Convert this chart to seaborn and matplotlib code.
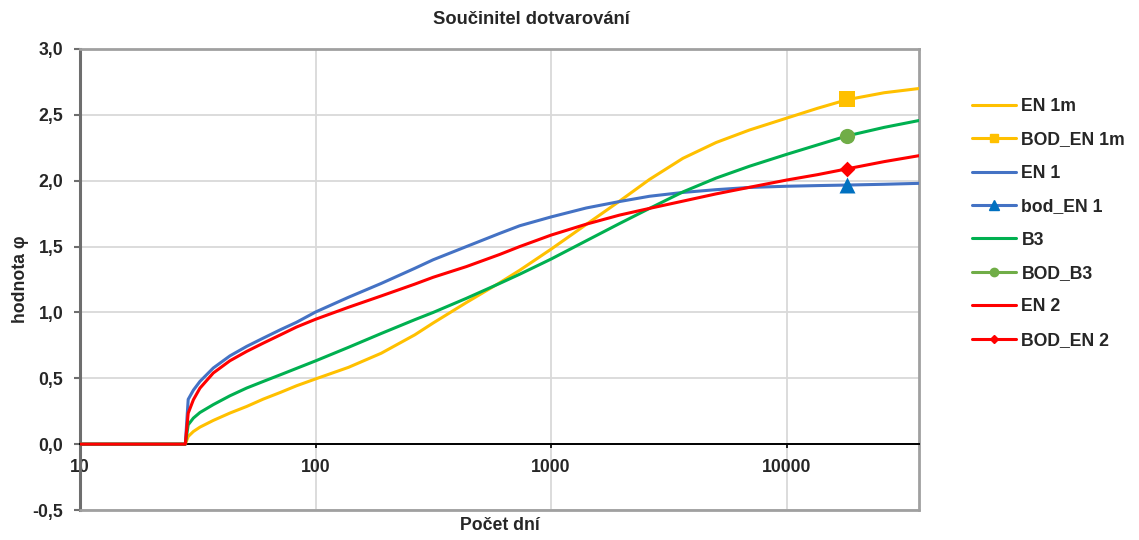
import matplotlib
matplotlib.use("Agg")
import matplotlib.pyplot as plt
import seaborn as sns
from matplotlib.lines import Line2D
from matplotlib.ticker import FuncFormatter, FixedLocator, NullLocator

# Creep coefficient curves (age in days, log scale)
days = [10, 28, 28.8, 30.3, 32.3, 36.8, 43.3, 51, 60, 71, 83, 100, 138, 190, 264,
        316, 437, 605, 736, 1000, 1411, 1954, 2620, 3630, 5020, 6960, 10000,
        13540, 18050, 25970, 36500]

en1m = [0, 0, 0.058, 0.096, 0.129, 0.18, 0.236, 0.286, 0.342, 0.393, 0.443, 0.495,
        0.583, 0.69, 0.83, 0.92, 1.075, 1.225, 1.32, 1.48, 1.668, 1.845, 2.01, 2.17,
        2.29, 2.385, 2.475, 2.55, 2.615, 2.668, 2.70]
en1 = [0, 0, 0.34, 0.41, 0.476, 0.578, 0.67, 0.742, 0.805, 0.869, 0.925, 1.003,
       1.115, 1.22, 1.335, 1.40, 1.50, 1.60, 1.658, 1.725, 1.793, 1.842, 1.882, 1.911,
       1.932, 1.949, 1.958, 1.963, 1.967, 1.973, 1.98]
b3 = [0, 0, 0.147, 0.198, 0.24, 0.30, 0.367, 0.426, 0.476, 0.527, 0.575, 0.632,
      0.735, 0.84, 0.945, 1.0, 1.107, 1.22, 1.29, 1.405, 1.544, 1.675, 1.79, 1.915,
      2.02, 2.11, 2.20, 2.272, 2.34, 2.405, 2.457]
en2 = [0, 0, 0.235, 0.337, 0.425, 0.54, 0.633, 0.704, 0.767, 0.83, 0.889, 0.948,
       1.039, 1.125, 1.215, 1.267, 1.348, 1.44, 1.50, 1.587, 1.67, 1.739, 1.79, 1.845,
       1.90, 1.95, 2.005, 2.046, 2.09, 2.145, 2.19]

# Single evaluation points at ~50 years
point_day = [18050]
bod_en1m = [2.62]
bod_en1 = [1.97]
bod_b3 = [2.34]
bod_en2 = [2.09]

x_ticks = [10, 100, 1000, 10000]
y_ticks = [-0.5, 0.0, 0.5, 1.0, 1.5, 2.0, 2.5, 3.0]

YELLOW = "#FFC000"
BLUE_LINE = "#4472C4"
BLUE_MARK = "#0070C0"
GREEN_LINE = "#00B050"
GREEN_MARK = "#70AD47"
RED = "#FF0000"

sns.set_style("white")
plt.rcParams["font.family"] = ["Liberation Sans", "DejaVu Sans"]
plt.rcParams["font.weight"] = "bold"
FS = 12.7

fig = plt.figure(figsize=(11.39, 5.40), dpi=100)
ax = fig.add_axes([80 / 1139, 1 - 510 / 540, 839 / 1139, 461 / 540])

LW = 2.2
sns.lineplot(x=days, y=en1m, ax=ax, color=YELLOW, lw=LW, estimator=None, sort=False, zorder=3)
sns.lineplot(x=days, y=en1, ax=ax, color=BLUE_LINE, lw=LW, estimator=None, sort=False, zorder=3)
sns.lineplot(x=days, y=b3, ax=ax, color=GREEN_LINE, lw=LW, estimator=None, sort=False, zorder=3)
sns.lineplot(x=days, y=en2, ax=ax, color=RED, lw=LW, estimator=None, sort=False, zorder=3)

sns.scatterplot(x=point_day, y=bod_en1m, ax=ax, marker="s", s=128, color=YELLOW,
                edgecolor=YELLOW, linewidth=0, zorder=5)
sns.scatterplot(x=point_day, y=bod_en1, ax=ax, marker="^", s=132, color=BLUE_MARK,
                edgecolor=BLUE_MARK, linewidth=0, zorder=5)
sns.scatterplot(x=point_day, y=bod_b3, ax=ax, marker="o", s=120, color=GREEN_MARK,
                edgecolor=GREEN_MARK, linewidth=0, zorder=5)
sns.scatterplot(x=point_day, y=bod_en2, ax=ax, marker="D", s=64, color=RED,
                edgecolor=RED, linewidth=0, zorder=5)

ax.set_xscale("log")
ax.set_xlim(10, 36500)
ax.set_ylim(-0.5, 3.0)

ax.xaxis.set_major_locator(FixedLocator(x_ticks))
ax.xaxis.set_minor_locator(NullLocator())
ax.xaxis.set_major_formatter(FuncFormatter(lambda v, p: f"{int(round(v))}"))
ax.yaxis.set_major_locator(FixedLocator(y_ticks))
ax.yaxis.set_major_formatter(FuncFormatter(lambda v, p: f"{v:.1f}".replace(".", ",")))

ax.grid(True, which="major", color="#D9D9D9", lw=1.3, zorder=0)
ax.set_axisbelow(True)

# frame: grey border, dark left axis, horizontal axis crossing at zero
for side in ("top", "right"):
    ax.spines[side].set_color("#A0A0A0")
    ax.spines[side].set_linewidth(2.0)
ax.spines["left"].set_color("#6E6E6E")
ax.spines["left"].set_linewidth(2.2)
ax.spines["bottom"].set_position(("data", 0))
ax.spines["bottom"].set_color("black")
ax.spines["bottom"].set_linewidth(1.4)
ax.axhline(-0.5, color="#A0A0A0", lw=2.0, clip_on=False, zorder=6)

ax.tick_params(axis="y", direction="out", length=4.5, width=1.5, color="#6E6E6E",
               pad=7.5, labelsize=FS, left=True)
ax.tick_params(axis="x", direction="out", length=3, width=1.2, color="black",
               pad=7.5, labelsize=FS, bottom=True)
for lbl in ax.get_xticklabels() + ax.get_yticklabels():
    lbl.set_fontweight("bold")
    lbl.set_color("#262626")

ax.set_xlabel("Počet dní", fontsize=FS, fontweight="bold", color="#262626")
ax.xaxis.set_label_coords(0.5, -0.015)
ax.set_ylabel("hodnota φ", fontsize=FS, fontweight="bold", color="#262626")
ax.yaxis.set_label_coords(-0.061, 0.5)
ax.text(0.538, 1.064, "Součinitel dotvarování", transform=ax.transAxes,
        ha="center", va="center", fontsize=13.2, fontweight="bold", color="#262626")

handles = [
    Line2D([], [], color=YELLOW, lw=LW),
    Line2D([], [], color=YELLOW, lw=LW, marker="s", ms=6, mfc=YELLOW, mec=YELLOW),
    Line2D([], [], color=BLUE_LINE, lw=LW),
    Line2D([], [], color=BLUE_LINE, lw=LW, marker="^", ms=6.5, mfc=BLUE_MARK, mec=BLUE_MARK),
    Line2D([], [], color=GREEN_LINE, lw=LW),
    Line2D([], [], color=GREEN_MARK, lw=LW, marker="o", ms=6, mfc=GREEN_MARK, mec=GREEN_MARK),
    Line2D([], [], color=RED, lw=LW),
    Line2D([], [], color=RED, lw=LW, marker="D", ms=4.5, mfc=RED, mec=RED),
]
labels = ["EN 1m", "BOD_EN 1m", "EN 1", "bod_EN 1", "B3", "BOD_B3", "EN 2", "BOD_EN 2"]
fig.legend(handles, labels, loc="upper left", bbox_to_anchor=(972 / 1139, 1 - 98 / 540),
           frameon=False, prop={"weight": "bold", "size": FS},
           handlelength=2.5, handletextpad=0.3, labelspacing=0.93, borderpad=0,
           borderaxespad=0, labelcolor="#262626")

fig.savefig("out.png", dpi=100, facecolor="white")
